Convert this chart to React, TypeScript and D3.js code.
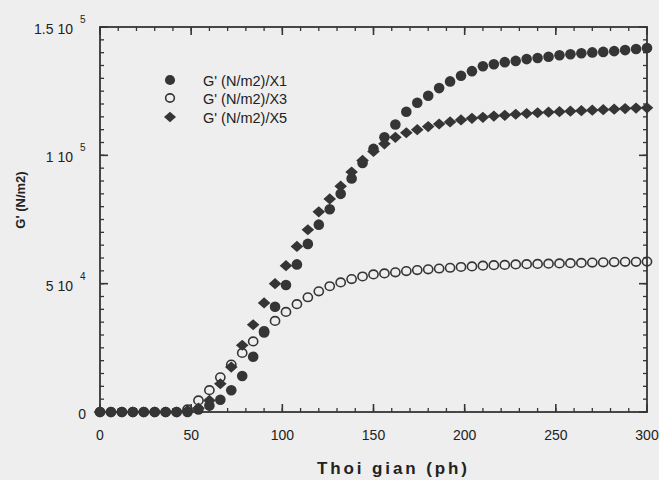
import React from "react";
import * as d3 from "d3";

const times = d3.range(0, 301, 6);

const seriesX1 = [
  0, 0, 0, 0, 0, 0, 0, 0, 0, 1000, 2500, 4800, 8500, 14000, 21500, 31000, 41000,
  49500, 57500, 65500, 73000, 79000, 85000, 91000, 97000, 102500, 107000, 112000,
  117000, 120500, 123200, 126200, 128800, 131000, 132800, 134700, 135500, 136300,
  136800, 137500, 137900, 138400, 139000, 139400, 139800, 140100, 140300, 140600,
  141000, 141400, 141800,
];
const seriesX3 = [
  0, 0, 0, 0, 0, 0, 0, 0, 1000, 4500, 8500, 13500, 18500, 23000, 27500, 31500,
  35500, 39000, 42000, 44700, 47000, 49000, 50500, 51800, 52800, 53600, 54000,
  54400, 54900, 55300, 55600, 55900, 56200, 56500, 56700, 57000, 57200, 57300,
  57500, 57600, 57700, 57800, 57900, 58000, 58100, 58200, 58300, 58400, 58500,
  58500, 58600,
];
const seriesX5 = [
  0, 0, 0, 0, 0, 0, 0, 0, 500, 1500, 4500, 11000, 17500, 26000, 34000, 42500,
  50000, 57000, 64500, 71000, 78000, 83000, 88000, 93500, 98000, 101500, 104500,
  107000, 108800, 110000, 111200, 112200, 113000, 113800, 114400, 114800, 115300,
  115600, 116000, 116300, 116600, 116800, 117000, 117200, 117400, 117600, 117800,
  118000, 118200, 118400, 118500,
];

const seriesNames = ["G' (N/m2)/X1", "G' (N/m2)/X3", "G' (N/m2)/X5"];
const xTicks = [0, 50, 100, 150, 200, 250, 300];
const xMinor = d3.range(0, 301, 10);
const yTicks = [0, 50000, 100000, 150000];
const yMinor = d3.range(0, 150001, 5000);
const yMantissa = ["0", "5 10", "1 10", "1.5 10"];
const yExponent = ["", "4", "5", "5"];
const xTitle = "Thoi gian (ph)";
const yTitle = "G' (N/m2)";

const W = 659;
const H = 480;
const left = 100;
const right = 647;
const top = 27;
const bottom = 412;
const ink = "#353535";
const font = "'Liberation Sans', Arial, sans-serif";

function Marker({ kind, x, y, s = 1 }: { kind: number; x: number; y: number; s?: number }) {
  if (kind === 0) return <circle cx={x} cy={y} r={5.3 * s} fill={ink} />;
  if (kind === 1)
    return <ellipse cx={x} cy={y} rx={4.6 * s} ry={4.3 * s} fill="none" stroke={ink} strokeWidth={1.6} />;
  const w = 6.3 * s;
  const h = 5.6 * s;
  return <path d={`M${x - w},${y}L${x},${y - h}L${x + w},${y}L${x},${y + h}Z`} fill={ink} />;
}

export default function App() {
  const x = d3.scaleLinear().domain([0, 300]).range([left, right]);
  const y = d3.scaleLinear().domain([0, 150000]).range([bottom, top]);
  const all = [seriesX1, seriesX3, seriesX5];
  const drawOrder = [1, 0, 2];

  return (
    <svg
      width={W}
      height={H}
      style={{ position: "absolute", left: 0, top: 0, background: "#eeeeee" }}
      fontFamily={font}
    >
      <rect x={0} y={0} width={W} height={H} fill="#eeeeee" />
      {xMinor.map((t) => (
        <g key={"xm" + t} stroke={ink} strokeWidth={1.3}>
          <line x1={x(t)} x2={x(t)} y1={bottom} y2={bottom - 4} />
          <line x1={x(t)} x2={x(t)} y1={top} y2={top + 4} />
        </g>
      ))}
      {xTicks.map((t) => (
        <g key={"xM" + t} stroke={ink} strokeWidth={1.6}>
          <line x1={x(t)} x2={x(t)} y1={bottom} y2={bottom - 8} />
          <line x1={x(t)} x2={x(t)} y1={top} y2={top + 8} />
        </g>
      ))}
      {yMinor.map((v) => (
        <g key={"ym" + v} stroke={ink} strokeWidth={1.3}>
          <line x1={left} x2={left + 4} y1={y(v)} y2={y(v)} />
          <line x1={right} x2={right - 4} y1={y(v)} y2={y(v)} />
        </g>
      ))}
      {yTicks.map((v) => (
        <g key={"yM" + v} stroke={ink} strokeWidth={1.6}>
          <line x1={left} x2={left + 8} y1={y(v)} y2={y(v)} />
          <line x1={right} x2={right - 8} y1={y(v)} y2={y(v)} />
        </g>
      ))}
      <rect x={left} y={top} width={right - left} height={bottom - top} fill="none" stroke={ink} strokeWidth={1.8} />

      {xTicks.map((t) => (
        <text key={"xl" + t} x={x(t)} y={440} textAnchor="middle" fontSize={14} fill="#222">
          {t}
        </text>
      ))}
      {yTicks.map((v, i) => (
        <g key={"yl" + v}>
          <text x={i === 0 ? 86 : 73} y={y(v) + 7} textAnchor="end" fontSize={14} fill="#222">
            {yMantissa[i]}
          </text>
          {yExponent[i] && (
            <text x={80} y={y(v) - 4} fontSize={10} fill="#222">
              {yExponent[i]}
            </text>
          )}
        </g>
      ))}

      <text x={317} y={474} fontSize={17} fontWeight="bold" fill="#222" textLength={150} lengthAdjust="spacing">
        {xTitle}
      </text>
      <text
        transform={`translate(25,200) rotate(-90)`}
        textAnchor="middle"
        fontSize={13}
        fontWeight="bold"
        fill="#222"
      >
        {yTitle}
      </text>

      {drawOrder.map((k) => (
        <g key={"s" + k}>
          {times.map((t, i) => (
            <Marker key={i} kind={k} x={x(t)} y={y(all[k][i])} />
          ))}
        </g>
      ))}

      {seriesNames.map((n, i) => {
        const ly = [80, 98, 117][i];
        return (
          <g key={"lg" + i}>
            <Marker kind={i} x={170} y={ly} s={0.95} />
            <text x={203} y={ly + 6} fontSize={14.5} fill="#222">
              {n}
            </text>
          </g>
        );
      })}
    </svg>
  );
}
